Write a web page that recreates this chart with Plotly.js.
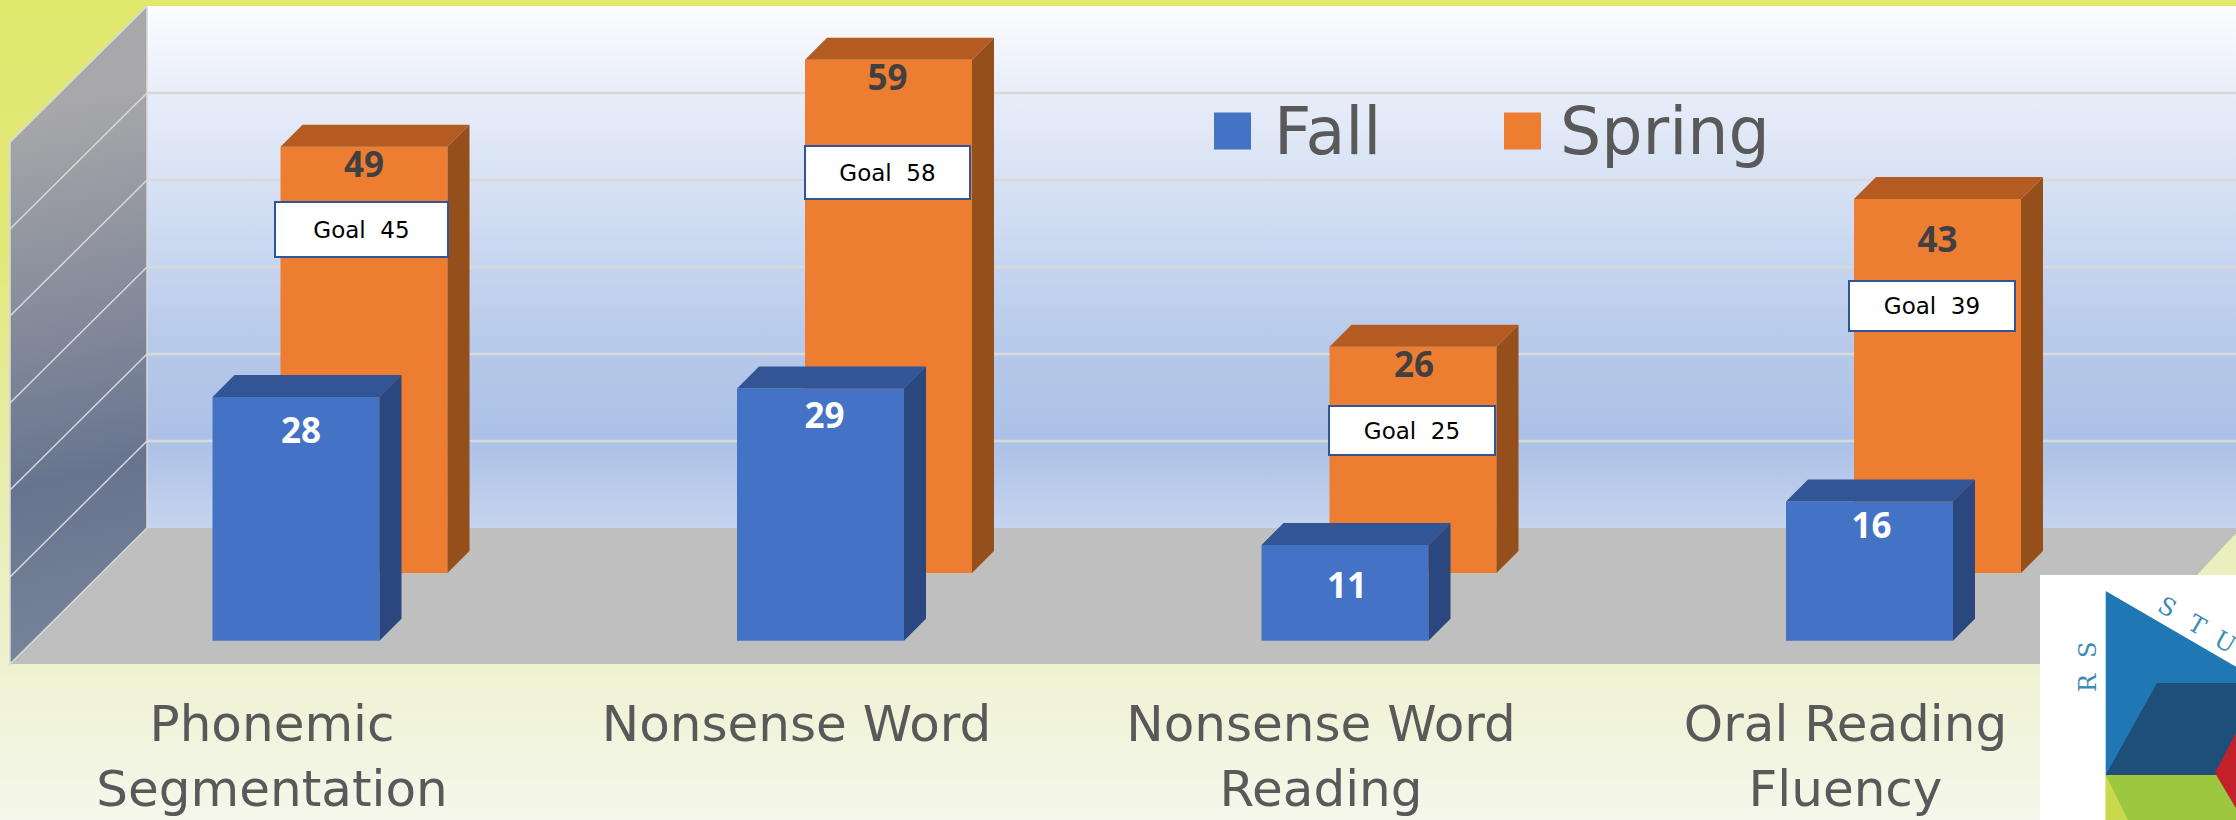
<!DOCTYPE html>
<html>
<head>
<meta charset="utf-8">
<script src="https://cdn.plot.ly/plotly-3.0.1.min.js"></script>
<style>html,body{margin:0;padding:0;background:#fff;overflow:hidden}#chart{width:2236px;height:820px}</style>
</head>
<body>
<div id="chart"></div>
<script>
// ---- data ----
const categories = ["Phonemic<br>Segmentation", "Nonsense Word", "Nonsense Word<br>Reading", "Oral Reading<br>Fluency"];
const fallValues = [28, 29, 11, 16];
const springValues = [49, 59, 26, 43];
const goalValues = [45, 58, 25, 39];
const seriesNames = ["Fall", "Spring"];
const goalLabel = "Goal";
const gridLevels = [10, 20, 30, 40, 50, 60];

// ---- layout constants (pixels of the 2236x820 page) ----
const W = 2236, H = 820, plotBottom = 690;
const catPx0 = 272, catStep = 524.5, unitPx = 8.7, zeroPx = 640.7;
const barPx = 167, depthPx = 22;
const fallShiftPx = 24, springShiftPx = 92;
const springBasePx = 573, wallBasePx = 528, wallFrontPx = 664, wallLeftFront = 10, wallLeftBack = 147;
const fallLabelDrop = [37, 31, 44, 28], springLabelDrop = [22, 22, 21, 44];
const fallLabelShift = [5, 4, 2, 2], springLabelShift = [0, -1, 1, 0];
const goalBox = [[274, 449, 201, 258], [804, 971, 145, 200], [1328, 1496, 405, 456], [1848, 2016, 280, 332]];

const X = p => (p - catPx0) / catStep;
const Y = p => (zeroPx - p) / unitPx;
const dX = p => p / catStep, dY = p => p / unitPx;
const px = x => x / W, py = y => 1 - (y / plotBottom);   // paper coordinates of the plot box
const springBase = Y(springBasePx);
const idx = categories.map((_, i) => i);

// faces of the 3-D look, computed from the values
function faces(vals, shiftPx, base) {
  const side = {x: [], y: []}, top = {x: [], y: []};
  vals.forEach((v, i) => {
    const l = i + dX(shiftPx) - dX(barPx) / 2, r = l + dX(barPx);
    const t = base + v, dx = dX(depthPx), dy = dY(depthPx);
    side.x.push(r, r + dx, r + dx, r, r, null);
    side.y.push(base, base + dy, t + dy, t, base, null);
    top.x.push(l, l + dx, r + dx, r, l, null);
    top.y.push(t, t + dy, t + dy, t, t, null);
  });
  return {side, top};
}
function faceTrace(f, color) {
  return {type: 'scatter', mode: 'lines', x: f.x, y: f.y, fill: 'toself', fillcolor: color,
          line: {width: 0, color: color}, hoverinfo: 'skip', showlegend: false};
}
const fs = faces(springValues, springShiftPx, springBase);
const ff = faces(fallValues, fallShiftPx, 0);

const traces = [
  {type: 'bar', name: seriesNames[1], x: idx.map(i => i + dX(springShiftPx)), y: springValues,
   base: springValues.map(() => springBase), width: dX(barPx), marker: {color: '#ED7D31', line: {width: 0}}, showlegend: false},
  {type: 'bar', name: seriesNames[0], x: idx.map(i => i + dX(fallShiftPx)), y: fallValues,
   width: dX(barPx), marker: {color: '#4472C4', line: {width: 0}}, showlegend: false},
  faceTrace(fs.side, '#954F1B'), faceTrace(fs.top, '#B35B20'),
  faceTrace(ff.side, '#2A4780'), faceTrace(ff.top, '#325596'),
  {type: 'scatter', mode: 'text', x: idx.map(i => i + dX(springShiftPx + springLabelShift[i])),
   y: springValues.map((v, i) => springBase + v - dY(springLabelDrop[i])),
   text: springValues.map(v => '<b>' + v + '</b>'), textposition: 'middle center',
   textfont: {family: 'Open Sans', size: 35, color: '#404040'}, hoverinfo: 'skip', showlegend: false},
  {type: 'scatter', mode: 'text', x: idx.map(i => i + dX(fallShiftPx + fallLabelShift[i])),
   y: fallValues.map((v, i) => v - dY(fallLabelDrop[i])),
   text: fallValues.map(v => '<b>' + v + '</b>'), textposition: 'middle center',
   textfont: {family: 'Open Sans', size: 35, color: '#FFFFFF'}, hoverinfo: 'skip', showlegend: false},
  {type: 'scatter', mode: 'markers', x: [X(1232.5), X(1522.5)], y: [Y(131), Y(131)],
   marker: {symbol: 'square', size: 37, color: ['#4472C4', '#ED7D31'], line: {width: 0}}, hoverinfo: 'skip', showlegend: false}
];

// backdrop: page gradient, walls, floor
const backdrop = `<svg xmlns="http://www.w3.org/2000/svg" width="${W}" height="${H}" viewBox="0 0 ${W} ${H}">
<defs>
<linearGradient id="pg" x1="0" y1="0" x2="0" y2="1">
<stop offset="0" stop-color="#E0E86C"/><stop offset="0.3" stop-color="#E2E87A"/><stop offset="0.6" stop-color="#E9EDB0"/><stop offset="0.82" stop-color="#EFF2D2"/><stop offset="1" stop-color="#F5F7EC"/>
</linearGradient>
<linearGradient id="bw" gradientUnits="userSpaceOnUse" x1="0" y1="6" x2="0" y2="528">
<stop offset="0" stop-color="#FCFDFF"/><stop offset="0.165" stop-color="#E8EDF9"/><stop offset="0.33" stop-color="#D8E2F4"/><stop offset="0.5" stop-color="#C6D5EF"/><stop offset="0.67" stop-color="#B5C8E9"/><stop offset="0.835" stop-color="#ACC1E7"/><stop offset="1" stop-color="#C6D4EE"/>
</linearGradient>
<linearGradient id="lw" gradientUnits="userSpaceOnUse" x1="30" y1="110" x2="147" y2="664">
<stop offset="0" stop-color="#A8A8AA"/><stop offset="0.65" stop-color="#68748F"/><stop offset="1" stop-color="#7A8699"/>
</linearGradient>
</defs>
<rect width="${W}" height="${H}" fill="url(#pg)"/>
<rect x="147" y="6" width="${W}" height="522" fill="url(#bw)"/>
<polygon points="10,664 147,528 2241,528 2114,664" fill="#BFBFBF"/>
<polygon points="10,142 147,6 147,528 10,664" fill="url(#lw)" stroke="#D9D9D9" stroke-width="1.5"/>
</svg>`;

// grid lines on the back and side walls
const shapes = [];
gridLevels.forEach(g => {
  const yBack = Y(wallBasePx) + g, yFront = Y(wallFrontPx) + g;
  shapes.push({type: 'line', layer: 'below', xref: 'x', yref: 'y', x0: X(wallLeftFront), x1: X(wallLeftBack), y0: yFront, y1: yBack, line: {color: '#D9D9D9', width: 1.5}});
  if (g < 60) shapes.push({type: 'line', layer: 'below', xref: 'x', yref: 'y', x0: X(wallLeftBack), x1: X(W), y0: yBack, y1: yBack, line: {color: '#D9D9D9', width: 2.5}});
});

// logo in the corner
function poly(pts, color) {
  const d = 'M' + pts.map(p => px(p[0]) + ',' + py(p[1])).join('L') + 'Z';
  return {type: 'path', layer: 'above', xref: 'paper', yref: 'paper', path: d, fillcolor: color, line: {width: 0}};
}
shapes.push(
  poly([[2040, 575], [2240, 575], [2240, 824], [2040, 824]], '#FFFFFF'),
  poly([[2105.7, 591], [2240, 669], [2240, 775], [2105.7, 775]], '#1F78B4'),
  poly([[2157, 683], [2240, 683], [2240, 775], [2105.7, 775]], '#1D4F78'),
  poly([[2105.7, 775], [2240, 775], [2240, 824], [2105.7, 824]], '#9DC73F'),
  poly([[2105.7, 775], [2130, 824], [2105.7, 824]], '#C9DB4C'),
  poly([[2240, 725], [2215, 773], [2240, 815]], '#C4202B')
);

const annotations = [];
// goal boxes
goalValues.forEach((g, i) => {
  const b = goalBox[i];
  annotations.push({xref: 'x', yref: 'y', x: X((b[0] + b[1]) / 2), y: Y((b[2] + b[3]) / 2), showarrow: false,
    text: goalLabel + '\u00A0\u00A0' + g, font: {family: 'DejaVu Sans', size: 23, color: '#000000'},
    bgcolor: '#FFFFFF', bordercolor: '#2F5597', borderwidth: 2, borderpad: 0,
    width: b[1] - b[0] - 4, height: b[3] - b[2] - 4, align: 'center', valign: 'middle'});
});
// legend text
[[seriesNames[0], 1272], [seriesNames[1], 1558]].forEach(l => {
  annotations.push({xref: 'x', yref: 'y', x: X(l[1]), y: Y(131), xanchor: 'left', yanchor: 'middle', showarrow: false,
    text: l[0], font: {family: 'DejaVu Sans', size: 65, color: '#595959'}});
});
// logo text
const logoFont = {family: 'DejaVu Serif', size: 24, color: '#3C8DB0'};
[['S', 2167, 607], ['T', 2197, 625], ['U', 2225, 642]].forEach(a => {
  annotations.push({xref: 'x', yref: 'y', x: X(a[1]), y: Y(a[2]), showarrow: false, text: a[0], textangle: 30, font: logoFont});
});
[['S', 650], ['R', 683], ['E', 720], ['H', 757], ['C', 793], ['A', 829]].forEach(a => {
  annotations.push({xref: 'x', yref: 'y', x: X(2088), y: Y(a[1]), showarrow: false, text: a[0], textangle: -90, font: logoFont});
});
annotations.push({xref: 'x', yref: 'y', x: X(2110), y: Y(775), xanchor: 'left', yanchor: 'middle', showarrow: false,
  text: '<b>ET</b>', font: {family: 'DejaVu Serif', size: 96, color: '#FFFFFF'}});

const layout = {
  width: W, height: H, autosize: false,
  margin: {l: 0, r: 0, t: 0, b: H - plotBottom, pad: 0},
  paper_bgcolor: 'rgba(0,0,0,0)', plot_bgcolor: 'rgba(0,0,0,0)',
  barmode: 'overlay', showlegend: false, hovermode: false,
  xaxis: {range: [X(0), X(W)], tickmode: 'array', tickvals: idx, ticktext: categories,
          showgrid: false, zeroline: false, showline: false, ticks: '', tickangle: 0,
          tickfont: {family: 'DejaVu Sans', size: 50, color: '#595959'}, fixedrange: true},
  yaxis: {range: [Y(plotBottom), Y(0)], visible: false, showgrid: false, zeroline: false, fixedrange: true},
  images: [{source: 'data:image/svg+xml;charset=utf-8,' + encodeURIComponent(backdrop), xref: 'paper', yref: 'paper',
            x: 0, y: 1, sizex: 1, sizey: H / plotBottom, sizing: 'stretch', xanchor: 'left', yanchor: 'top', layer: 'below'}],
  shapes, annotations
};
Plotly.newPlot('chart', traces, layout, {displayModeBar: false, staticPlot: true});
</script>
</body>
</html>
